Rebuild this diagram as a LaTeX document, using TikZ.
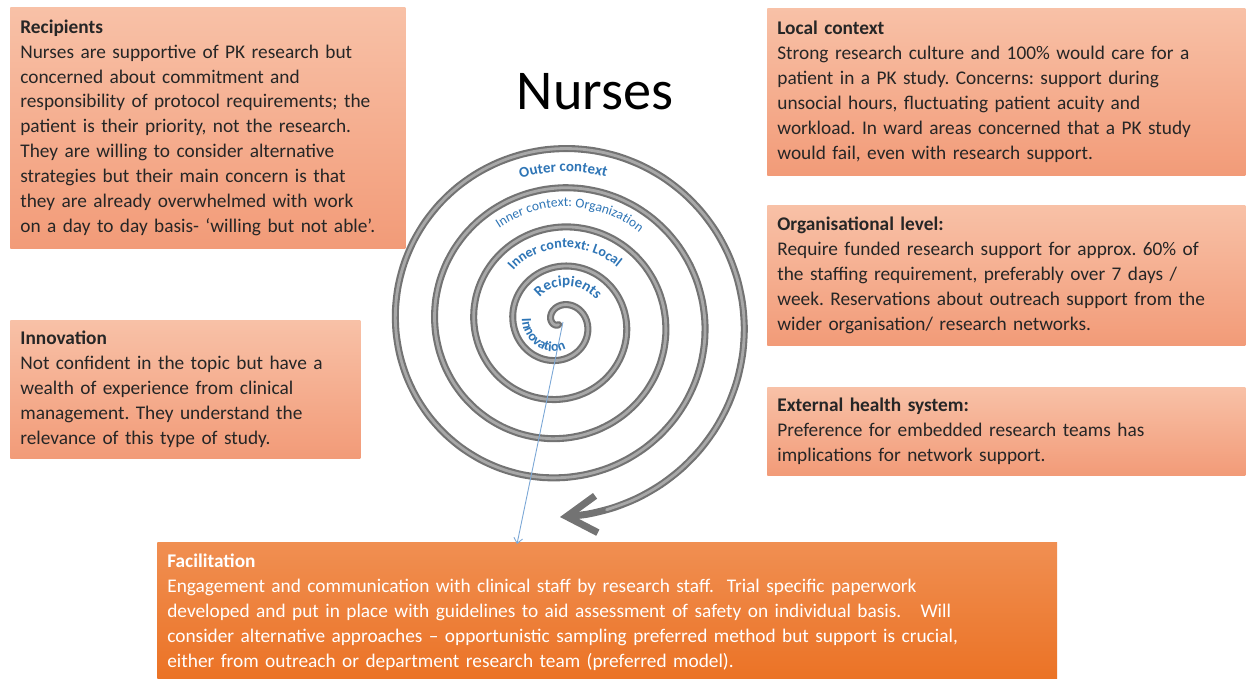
\documentclass[tikz,border=0pt]{standalone}
\usepackage{fontspec}
\setmainfont{Carlito}
\usepackage{xcolor}
\usepackage{tikz}
\usetikzlibrary{arrows.meta,decorations.text}
\definecolor{boxtop}{HTML}{F8C1A7}
\definecolor{boxbot}{HTML}{F29B78}
\definecolor{factop}{HTML}{F08F52}
\definecolor{facbot}{HTML}{EB7224}
\definecolor{boxtext}{HTML}{262626}
\definecolor{ringdark}{HTML}{737373}
\definecolor{ringlight}{HTML}{A8A8A8}
\definecolor{spiralblue}{HTML}{2E75B6}
\definecolor{linkblue}{HTML}{7AA7D6}
\frenchspacing

% spiral: centre (560,323), 39px per turn, clockwise outwards
\newcommand{\spiralplot}[3]{plot[domain=#1:#2, samples=220, smooth, variable=\t]
  ({560+(0.109*(\t-110)+#3)*cos(\t)}, {323+(0.109*(\t-110)+#3)*sin(\t)})}
% same curve as short straight pieces, for the labels
\newcommand{\labelplot}[3]{plot[domain=#1:#2, samples=24, variable=\t]
  ({560+(0.109*(\t-110)+#3)*cos(\t)}, {323+(0.109*(\t-110)+#3)*sin(\t)})}

\tikzset{
  infobox/.style={anchor=north west, align=left, inner xsep=0.2cm, inner ysep=0.12cm,
    top color=boxtop, bottom color=boxbot, text=boxtext,
    font=\fontsize{11}{14.2}\selectfont},
  facbox/.style={infobox, top color=factop, bottom color=facbot, text=white},
  ringtext/.style={decorate, decoration={text along path, text align=center, text={#1}}}
}

\begin{document}
\begin{tikzpicture}[x=0.02cm, y=-0.02cm]

  \path[use as bounding box, fill=white] (0,0) rectangle (1251,679);

  % --- Title ---
  \node[font=\fontsize{32}{36}\selectfont] (title) at (595,92) {Nurses};

  % --- Spiral ---
  \draw[ringdark, line width=4pt, line cap=round,
    -{Straight Barb[length=17pt, width=21pt]}] \spiralplot{130}{1890}{0};
  \draw[ringlight, line width=1.6pt, line cap=round] \spiralplot{130}{1876}{0};
  \coordinate (core) at (563,322);

  % --- Labels along the spiral ---
  \path[ringtext={|\fontsize{8.5}{10}\selectfont\bfseries\color{spiralblue}|Outer context}]
    \labelplot{1650}{1770}{-23};
  \path[ringtext={|\fontsize{7.7}{9}\selectfont\color{spiralblue}|Inner context: Organization}]
    \labelplot{1280}{1425}{-19};
  \path[ringtext={|\fontsize{8}{10}\selectfont\bfseries\color{spiralblue}|Inner context: Local}]
    \labelplot{920}{1060}{-21};
  \path[ringtext={|\fontsize{8.5}{10}\selectfont\bfseries\color{spiralblue}|Recipients}]
    \labelplot{550}{716}{-20};
  \path[ringtext={|\fontsize{8}{10}\selectfont\bfseries\color{spiralblue}|Innovation}]
    \labelplot{575}{390}{-9};

  % --- Left boxes ---
  \node[infobox, text width=7.5cm, minimum height=4.82cm] (recip) at (10,7)
    {\textbf{Recipients}\\
     Nurses are supportive of PK research but\\
     concerned about commitment and\\
     responsibility of protocol requirements; the\\
     patient is their priority, not the research.\\
     They are willing to consider alternative\\
     strategies but their main concern is that\\
     they are already overwhelmed with work\\
     on a day to day basis- ‘willing but not able’.};
  \node[infobox, text width=6.6cm, minimum height=2.76cm] (innov) at (10,320)
    {\textbf{Innovation}\\
     Not confident in the topic but have a\\
     wealth of experience from clinical\\
     management. They understand the\\
     relevance of this type of study.};

  % --- Right boxes ---
  \node[infobox, text width=9.16cm, minimum height=3.34cm] (local) at (767,8)
    {\textbf{Local context}\\
     Strong research culture and 100\% would care for a\\
     patient in a PK study. Concerns: support during\\
     unsocial hours, fluctuating patient acuity and\\
     workload. In ward areas concerned that a PK study\\
     would fail, even with research support.};
  \node[infobox, text width=9.16cm, minimum height=2.8cm] (organ) at (767,205)
    {\textbf{Organisational level:}\\
     Require funded research support for approx. 60\% of\\
     the staffing requirement, preferably over 7 days /\\
     week. Reservations about outreach support from the\\
     wider organisation/ research networks.};
  \node[infobox, text width=9.16cm, minimum height=1.76cm] (extern) at (767,387)
    {\textbf{External health system:}\\
     Preference for embedded research teams has\\
     implications for network support.};

  % --- Facilitation ---
  \node[facbox, text width=17.6cm, minimum height=2.8cm] (facil) at (157,542)
    {\textbf{Facilitation}\\
     Engagement and communication with clinical staff by research staff.\ \ Trial specific paperwork\\
     developed and put in place with guidelines to aid assessment of safety on individual basis.\ \ \ Will\\
     consider alternative approaches -- opportunistic sampling preferred method but support is crucial,\\
     either from outreach or department research team (preferred model).};

  \coordinate (facin) at (517,544);
  \draw[linkblue, line width=0.5pt, -{Straight Barb[length=3pt, width=5pt]}] (core) -- (facin);

\end{tikzpicture}
\end{document}
